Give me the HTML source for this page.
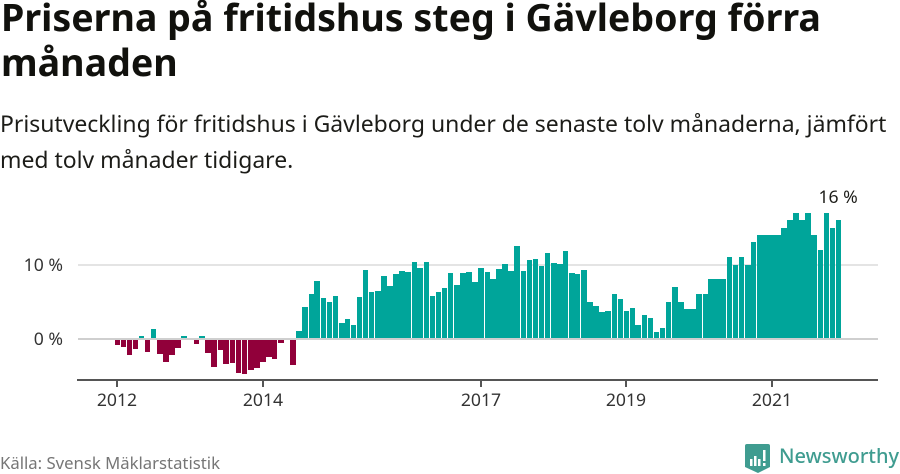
<!DOCTYPE html>
<html lang="sv">
<head>
<meta charset="utf-8">
<title>Priserna på fritidshus steg i Gävleborg förra månaden</title>
<style>
  html, body { margin: 0; padding: 0; background: #fff; }
  body { width: 900px; height: 474px; overflow: hidden; position: relative;
         font-family: "Noto Sans", "Liberation Sans", "Noto Sans CJK SC", sans-serif; }
  #title { position: absolute; left: 1px; top: -5.5px; margin: 0; width: 890px; font-size: 37.6px; line-height: 45px;
           font-weight: 700; color: #11110d; }
  #subtitle { position: absolute; left: 0; top: 105px; margin: 0; width: 899px; font-size: 22.95px; line-height: 36px;
              font-weight: 400; color: #1c1c18; }
  #source { position: absolute; left: 0; top: 453px; font-size: 16.7px; line-height: 20px; color: #767676; }
  #brand { position: absolute; left: 745px; top: 443px; width: 155px; height: 31px; }
  #chart { position: absolute; left: 0; top: 0; }
</style>
</head>
<body>
<h1 id="title">Priserna på fritidshus steg i Gävleborg förra månaden</h1>
<p id="subtitle">Prisutveckling för fritidshus i Gävleborg under de senaste tolv månaderna, jämfört med tolv månader tidigare.</p>
<svg id="chart" width="900" height="474" viewBox="0 0 900 474"></svg>
<div id="source">Källa: Svensk Mäklarstatistik</div>
<svg id="brand" viewBox="0 0 155 31">
  <path d="M2 1 H23 a2 2 0 0 1 2 2 V24 L13 30 L0 24 V3 a2 2 0 0 1 2 -2 Z" fill="#3f9c90"/>
  <rect x="5" y="16" width="2.5" height="7" fill="#fff"/>
  <rect x="9" y="13" width="2.5" height="10" fill="#fff"/>
  <rect x="13" y="16" width="2.5" height="7" fill="#fff"/>
  <rect x="18" y="7" width="2.5" height="11" fill="#fff"/>
  <rect x="18" y="20" width="2.5" height="3" fill="#fff"/>
  <text x="34" y="20" font-size="20" font-weight="500" fill="#3f9c90" font-family="'Noto Sans','Liberation Sans',sans-serif">Newsworthy</text>
</svg>
<script>
const months = [
  "2012-01","2012-02","2012-03","2012-04","2012-05","2012-06","2012-07","2012-08","2012-09","2012-10","2012-11","2012-12",
  "2013-01","2013-02","2013-03","2013-04","2013-05","2013-06","2013-07","2013-08","2013-09","2013-10","2013-11","2013-12",
  "2014-01","2014-02","2014-03","2014-04","2014-05","2014-06","2014-07","2014-08","2014-09","2014-10","2014-11","2014-12",
  "2015-01","2015-02","2015-03","2015-04","2015-05","2015-06","2015-07","2015-08","2015-09","2015-10","2015-11","2015-12",
  "2016-01","2016-02","2016-03","2016-04","2016-05","2016-06","2016-07","2016-08","2016-09","2016-10","2016-11","2016-12",
  "2017-01","2017-02","2017-03","2017-04","2017-05","2017-06","2017-07","2017-08","2017-09","2017-10","2017-11","2017-12",
  "2018-01","2018-02","2018-03","2018-04","2018-05","2018-06","2018-07","2018-08","2018-09","2018-10","2018-11","2018-12",
  "2019-01","2019-02","2019-03","2019-04","2019-05","2019-06","2019-07","2019-08","2019-09","2019-10","2019-11","2019-12",
  "2020-01","2020-02","2020-03","2020-04","2020-05","2020-06","2020-07","2020-08","2020-09","2020-10","2020-11","2020-12",
  "2021-01","2021-02","2021-03","2021-04","2021-05","2021-06","2021-07","2021-08","2021-09","2021-10","2021-11","2021-12"
];
const changePct = [
  -0.85,-1.1,-2.2,-1.4,0.36,-1.8,1.3,-2.1,-3.15,-2.2,-1.25,0.36,
  0,-0.7,0.36,-1.9,-3.8,-1.5,-3.4,-3.3,-4.6,-4.8,-4.2,-4,
  -3.15,-2.5,-2.75,-0.6,0,-3.55,1,4.3,6,7.8,5.5,5,
  5.8,2.1,2.65,1.85,5.6,9.3,6.3,6.45,8.5,7.1,8.75,9.15,
  9,10.4,9.55,10.4,5.8,6.3,6.85,8.9,7.25,8.9,9,7.65,
  9.55,9,8.05,9.4,10.1,9.15,12.5,9.15,10.6,10.75,9.8,11.6,
  10.2,10.1,11.85,8.9,8.75,9.3,5,4.4,3.6,3.75,6.05,5.35,
  3.75,4.15,1.85,3.2,2.8,0.9,1.45,5,7,5,4,4,
  6,6,8,8,8,11,10,11,10,13,14,14,
  14,14,15,16,17,16,17,14,12,17,15,16
];
const yTicks = [0, 10];
const xTickMonths = ["2012-01","2014-01","2017-01","2019-01","2021-01"];
const xTickLabels = ["2012","2014","2017","2019","2021"];

const SVGNS = "http://www.w3.org/2000/svg";
const svg = document.getElementById("chart");
const FONT = "'Noto Sans','Liberation Sans',sans-serif";

function dayNumber(m) {
  const parts = m.split("-");
  return Date.UTC(Number(parts[0]), Number(parts[1]) - 1, 1) / 86400000;
}
const day0 = dayNumber(months[0]);
function xScale(m) { return 117 + (dayNumber(m) - day0) * 0.1991; }
function yScale(v) { return 338.55 - v * 7.39; }
function make(tag, attrs, parent) {
  const el = document.createElementNS(SVGNS, tag);
  Object.keys(attrs).forEach(function (k) { el.setAttribute(k, attrs[k]); });
  (parent || svg).appendChild(el);
  return el;
}

yTicks.forEach(function (t) {
  const yy = Math.round(yScale(t));
  const line = make("line", { x1: 78, x2: 878, y1: yy, y2: yy,
    stroke: t === 0 ? "#cfcfcf" : "#e4e4e4", "stroke-width": 2 });
  
  
  const label = make("text", { x: 63, y: yy + 6, "text-anchor": "end",
    "font-size": 17.6, "font-family": FONT, fill: "#333" });
  label.textContent = t + " %";
  
  
});

months.forEach(function (m, i) {
  const v = changePct[i];
  const y0 = yScale(0), yv = yScale(v);
  const left = Math.round(xScale(m) - 2.42);
  const right = Math.round(xScale(m) - 2.42 + 5.58);
  const top = Math.round(v >= 0 ? yv : y0 + 1);
  const bottom = Math.round(v >= 0 ? y0 - 1 : yv);
  const rect = make("rect", {
    x: left,
    y: top,
    width: right - left,
    height: Math.max(0, bottom - top),
    fill: v >= 0 ? "#00a59a" : "#91003a",
    "shape-rendering": "crispEdges"
  });
  
  
});

const axis = make("line", { x1: 77, x2: 878, y1: 380, y2: 380, stroke: "#555", "stroke-width": 2 });



xTickMonths.forEach(function (m, i) {
  const x = Math.round(xScale(m));
  const tick = make("line", { x1: x, x2: x, y1: 380, y2: 387, stroke: "#555", "stroke-width": 2 });
  
  
  const label = make("text", { x: x, y: 406, "text-anchor": "middle",
    "font-size": 17.6, "font-family": FONT, fill: "#333" });
  label.textContent = xTickLabels[i];
  
  
});

const lastIdx = months.length - 1;
const note = make("text", { x: xScale(months[lastIdx]), y: 203, "text-anchor": "middle",
  "font-size": 17.6, "font-family": FONT, fill: "#1c1c18" });
note.textContent = Math.round(changePct[lastIdx]) + " %";


</script>
</body>
</html>
